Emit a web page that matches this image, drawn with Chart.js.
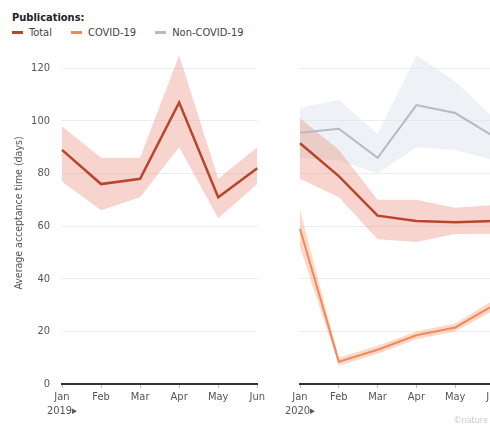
<!DOCTYPE html>
<html>
<head>
<meta charset="utf-8">
<script src="https://cdn.jsdelivr.net/npm/chart.js@4"></script>
<style>
  html, body { margin: 0; padding: 0; background: #fff; overflow: hidden; width: 490px; height: 427px; }
  body { position: relative; font-family: "Liberation Sans Narrow", "DejaVu Sans Condensed", Arial, sans-serif; color: #444; }
  #legend { position: absolute; left: 12px; top: 10px; font-size: 11px; line-height: 15px; }
  #legend .head { font-weight: bold; color: #222; }
  #legend .item { display: inline-block; margin-right: 16px; }
  #legend .sw { display: inline-block; width: 11px; height: 3px; vertical-align: middle; margin-right: 6px; position: relative; top: -1px; }
  #left { position: absolute; left: 0; top: 0; }
  #right { position: absolute; left: 270px; top: 0; }
  #credit { position: absolute; right: 2px; bottom: 2px; font-size: 9px; color: #c9c9c9; }
</style>
</head>
<body>
<div id="legend">
  <div class="head">Publications:</div>
  <span class="item"><span class="sw" style="background:#b8452c"></span>Total</span>
  <span class="item"><span class="sw" style="background:#f08a5d"></span>COVID-19</span>
  <span class="item"><span class="sw" style="background:#b4bcc3"></span>Non-COVID-19</span>
</div>
<canvas id="left" width="268" height="427"></canvas>
<canvas id="right" width="250" height="427"></canvas>
<div id="credit">©nature</div>
<script>
const months2019 = [['Jan', '2019▸'], 'Feb', 'Mar', 'Apr', 'May', 'Jun'];
const months2020 = [['Jan', '2020▸'], 'Feb', 'Mar', 'Apr', 'May', 'Jun'];

// average acceptance time in days, with upper/lower band
const total2019 = [89, 76, 78, 107, 71, 82];
const total2019Low = [77, 66, 71, 90, 63, 76];
const total2019High = [98, 86, 86, 125, 78, 90];

const total2020 = [91.5, 79, 64, 62, 61.5, 62];
const total2020Low = [78, 71, 55, 54, 57, 57];
const total2020High = [101, 89, 70, 70, 67, 68];

const covid2020 = [59, 8.5, 13, 18.5, 21.5, 30];
const covid2020Low = [52, 7, 11.5, 17, 20, 28];
const covid2020High = [66, 10, 14.5, 20, 23, 32];

const nonCovid2020 = [95.5, 97, 86, 106, 103, 94];
const nonCovid2020Low = [86, 85, 80, 90, 89, 85];
const nonCovid2020High = [105, 108, 95, 125, 115, 101];

const yTicks = [0, 20, 40, 60, 80, 100, 120];

const FONT = { family: '"Liberation Sans Narrow", "DejaVu Sans Condensed", Arial, sans-serif', size: 11 };

function lineSet(data, color, width) {
  return { data, borderColor: color, borderWidth: width, pointRadius: 0, fill: false, tension: 0 };
}
function bandSets(low, high, color) {
  return [
    { data: low, borderWidth: 0, pointRadius: 0, fill: false },
    { data: high, borderWidth: 0, pointRadius: 0, fill: '-1', backgroundColor: color }
  ];
}

function makeOptions(showY, padding, yWidth) {
  return {
    responsive: false,
    animation: false,
    layout: { padding },
    plugins: { legend: { display: false }, tooltip: { enabled: false } },
    scales: {
      x: {
        offset: false,
        grid: { drawOnChartArea: false, drawTicks: true, tickLength: 4, color: '#bbb' },
        border: { color: '#333', width: 2 },
        ticks: { font: FONT, color: '#555', padding: 3, maxRotation: 0, autoSkip: false },
        afterFit: s => { s.height = 43; }
      },
      y: {
        min: 0, max: 130,
        afterBuildTicks: s => { s.ticks = yTicks.map(v => ({ value: v })); },
        grid: { color: '#ececec', drawTicks: false },
        border: { display: false },
        ticks: { display: showY, font: FONT, color: '#555', padding: 12 },
        title: { display: showY, text: 'Average acceptance time (days)', font: { family: FONT.family, size: 10.5 }, color: '#555', padding: 0 },
        afterFit: s => { s.width = yWidth; }
      }
    }
  };
}

new Chart(document.getElementById('left'), {
  type: 'line',
  data: {
    labels: months2019,
    datasets: [
      lineSet(total2019, '#b8452c', 2.5),
      ...bandSets(total2019Low, total2019High, 'rgba(236,150,132,0.4)')
    ]
  },
  options: makeOptions(true, { left: 13, right: 10, top: 42, bottom: 0 }, 49)
});

new Chart(document.getElementById('right'), {
  type: 'line',
  data: {
    labels: months2020,
    datasets: [
      lineSet(total2020, '#b8452c', 2.5),
      lineSet(covid2020, '#f08a5d', 2),
      lineSet(nonCovid2020, '#b4bcc3', 2),
      ...bandSets(covid2020Low, covid2020High, 'rgba(248,170,130,0.45)'),
      ...bandSets(total2020Low, total2020High, 'rgba(236,150,132,0.4)'),
      ...bandSets(nonCovid2020Low, nonCovid2020High, 'rgba(222,228,235,0.5)')
    ]
  },
  options: makeOptions(false, { left: 0, right: 26, top: 42, bottom: 0 }, 30)
});
</script>
</body>
</html>
